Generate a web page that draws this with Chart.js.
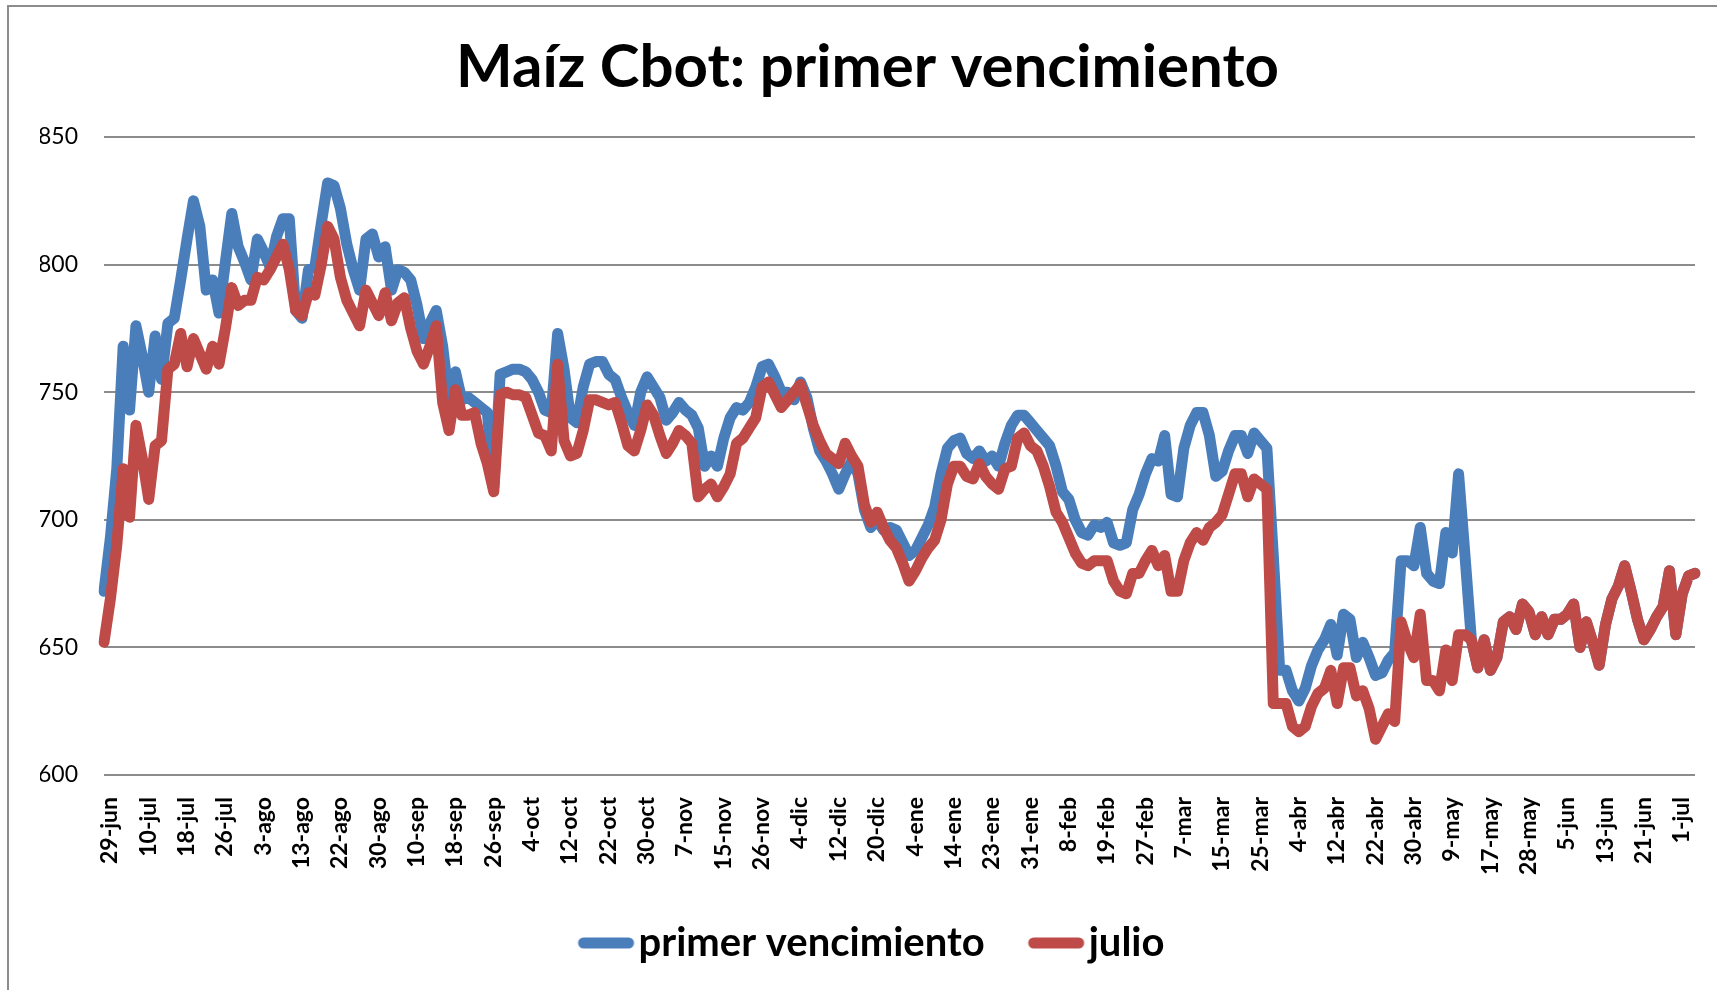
<!DOCTYPE html>
<html lang="es">
<head>
  <meta charset="UTF-8" />
  <title>Maíz Cbot: primer vencimiento</title>
  <script src="https://cdn.jsdelivr.net/npm/chart.js"></script>
  <style>
    body { margin: 0; background: #fff; }
    #wrap { position: relative; width: 1717px; height: 990px; overflow: hidden; }
    #frame { position: absolute; left: 7px; top: 5px; width: 1800px; height: 1100px;
             border-left: 2px solid #8c8c8c; border-top: 2px solid #8c8c8c; }
    canvas { position: absolute; left: 0; top: 0; }
  </style>
</head>
<body>
  <div id="wrap">
    <div id="frame"></div>
    <canvas id="maizChart" width="1717" height="990"></canvas>
  </div>

  <script>
    // axis labels: one every 6 trading days
    const tickLabels = [
      '29-jun', '10-jul', '18-jul', '26-jul', '3-ago', '13-ago', '22-ago', '30-ago',
      '10-sep', '18-sep', '26-sep', '4-oct', '12-oct', '22-oct', '30-oct', '7-nov',
      '15-nov', '26-nov', '4-dic', '12-dic', '20-dic', '4-ene', '14-ene', '23-ene',
      '31-ene', '8-feb', '19-feb', '27-feb', '7-mar', '15-mar', '25-mar', '4-abr',
      '12-abr', '22-abr', '30-abr', '9-may', '17-may', '28-may', '5-jun', '13-jun',
      '21-jun', '1-jul'
    ];
    const labelStep = 6;

    // primer vencimiento (cents/bu)
    const primerVencimiento = [
      672, 693, 720, 768, 743, 776, 764, 750, 772, 755,
      777, 779, 794, 810, 825, 815, 790, 794, 781, 801,
      820, 807, 801, 794, 810, 805, 799, 811, 818, 818,
      782, 779, 798, 799, 816, 832, 831, 822, 808, 798,
      790, 810, 812, 803, 807, 790, 798, 797, 794, 784,
      771, 777, 782, 768, 747, 758, 747, 748, 746, 744,
      742, 713, 757, 758, 759, 759, 758, 755, 750, 743,
      742, 773, 759, 740, 738, 752, 761, 762, 762, 757,
      755, 748, 742, 737, 750, 756, 752, 748, 739, 742,
      746, 743, 741, 736, 721, 725, 721, 732, 740, 744,
      743, 746, 752, 760, 761, 756, 750, 750, 747, 754,
      748, 736, 727, 723, 718, 712, 718, 723, 718, 704,
      697, 700, 696, 697, 696, 691, 686, 688, 693, 698,
      705, 718, 728, 731, 732, 726, 724, 727, 723, 725,
      721, 730, 737, 741, 741, 738, 735, 732, 729, 721,
      711, 708, 700, 695, 694, 698, 697, 699, 691, 690,
      691, 704, 710, 718, 724, 723, 733, 710, 709, 728,
      737, 742, 742, 733, 717, 719, 727, 733, 733, 726,
      734, 731, 728, 686, 641, 641, 633, 629, 634, 643,
      649, 653, 659, 647, 663, 661, 646, 652, 646, 639,
      640, 645, 648, 684, 684, 682, 697, 679, 676, 675,
      695, 687, 718, 686, 653, 642, 653, 641, 646, 660,
      662, 657, 667, 664, 655, 662, 655, 661, 661, 663,
      667, 650, 660, 652, 643, 659, 669, 674, 682, 672,
      661, 653, 657, 662, 666, 680, 655, 671, 678, 679
    ];

    // julio
    const julio = [
      652, 669, 690, 720, 701, 737, 724, 708, 729, 731,
      759, 761, 773, 760, 771, 765, 759, 768, 761, 775,
      791, 784, 786, 786, 795, 794, 798, 803, 808, 798,
      782, 780, 789, 788, 800, 815, 810, 795, 786, 781,
      776, 790, 785, 780, 789, 778, 785, 787, 775, 766,
      761, 768, 776, 746, 735, 751, 741, 741, 742, 730,
      722, 711, 749, 750, 749, 749, 748, 741, 734, 733,
      727, 761, 731, 725, 726, 735, 747, 747, 746, 745,
      746, 738, 729, 727, 735, 745, 741, 733, 726, 730,
      735, 733, 730, 709, 712, 714, 709, 713, 718, 730,
      732, 736, 740, 752, 754, 749, 744, 747, 750, 753,
      745, 737, 731, 726, 724, 722, 730, 725, 721, 706,
      699, 703, 697, 692, 689, 683, 676, 680, 685, 689,
      692, 700, 714, 721, 721, 717, 716, 722, 717, 714,
      712, 720, 721, 732, 734, 729, 727, 721, 713, 703,
      699, 693, 687, 683, 682, 684, 684, 684, 676, 672,
      671, 679, 679, 684, 688, 682, 686, 672, 672, 684,
      691, 695, 692, 697, 699, 702, 710, 718, 718, 709,
      716, 714, 712, 628, 628, 628, 619, 617, 619, 627,
      632, 634, 641, 628, 642, 642, 631, 633, 626, 614,
      619, 624, 621, 660, 652, 646, 663, 637, 637, 633,
      649, 637, 655, 655, 653, 642, 653, 641, 646, 660,
      662, 657, 667, 664, 655, 662, 655, 661, 661, 663,
      667, 650, 660, 652, 643, 659, 669, 674, 682, 672,
      661, 653, 657, 662, 666, 680, 655, 671, 678, 679
    ];

    const yMin = 600, yMax = 850, yStep = 50;

    // one category per trading day, named only where the axis shows a label
    const categories = julio.map((_, i) => i % labelStep === 0 ? (tickLabels[i / labelStep] || '') : '');

    const FONT = 'Lato';
    const BLUE = '#4a7ebb';
    const RED = '#be4b48';

    // legend swatch: a short thick line pushed right, close to the text
    function swatch(color) {
      const c = document.createElement('canvas');
      c.width = 84;
      c.height = 14;
      const g = c.getContext('2d');
      g.strokeStyle = color;
      g.lineWidth = 11;
      g.lineCap = 'round';
      g.beginPath();
      g.moveTo(31, 7);
      g.lineTo(76, 7);
      g.stroke();
      return c;
    }

    const lineStyle = {
      borderWidth: 11,
      pointRadius: 0,
      pointHoverRadius: 0,
      tension: 0,
      borderCapStyle: 'round',
      borderJoinStyle: 'round',
      fill: false
    };

    new Chart(document.getElementById('maizChart'), {
      type: 'line',
      data: {
        labels: categories,
        datasets: [
          { label: 'primer vencimiento', data: primerVencimiento, borderColor: BLUE, backgroundColor: BLUE,
            pointStyle: swatch(BLUE), order: 1, ...lineStyle },
          { label: 'julio', data: julio, borderColor: RED, backgroundColor: RED,
            pointStyle: swatch(RED), order: 0, ...lineStyle }
        ]
      },
      options: {
        responsive: false,
        animation: false,
        devicePixelRatio: 1,
        layout: { padding: { left: 40, right: 22, top: 0, bottom: 17 } },
        plugins: {
          title: {
            display: true,
            text: 'Maíz Cbot: primer vencimiento',
            color: '#000',
            font: { family: FONT, size: 60, weight: 'bold', lineHeight: 1.2 },
            padding: { top: 32, bottom: 33 }
          },
          legend: {
            position: 'bottom',
            labels: {
              color: '#000',
              font: { family: FONT, size: 40, weight: 'bold' },
              usePointStyle: true,
              pointStyleWidth: 48,
              padding: 36,
              sort: (a, b) => a.datasetIndex - b.datasetIndex
            }
          },
          tooltip: { enabled: false }
        },
        scales: {
          x: {
            grid: { display: false, drawTicks: false },
            border: { display: false },
            ticks: {
              autoSkip: false,
              minRotation: 90,
              maxRotation: 90,
              padding: 22,
              labelOffset: 6,
              color: '#000',
              font: { family: FONT, size: 23, weight: 'bold' }
            },
            afterFit: s => { s.height = 112; s.paddingLeft = 0; s.paddingRight = 0; }
          },
          y: {
            min: yMin,
            max: yMax,
            ticks: {
              stepSize: yStep,
              padding: 26,
              color: '#000',
              font: { family: FONT, size: 23 }
            },
            grid: { color: '#8c8c8c', lineWidth: 2, drawTicks: false },
            border: { display: false },
            afterFit: s => { s.width = 64; }
          }
        }
      }
    });
  </script>
</body>
</html>
